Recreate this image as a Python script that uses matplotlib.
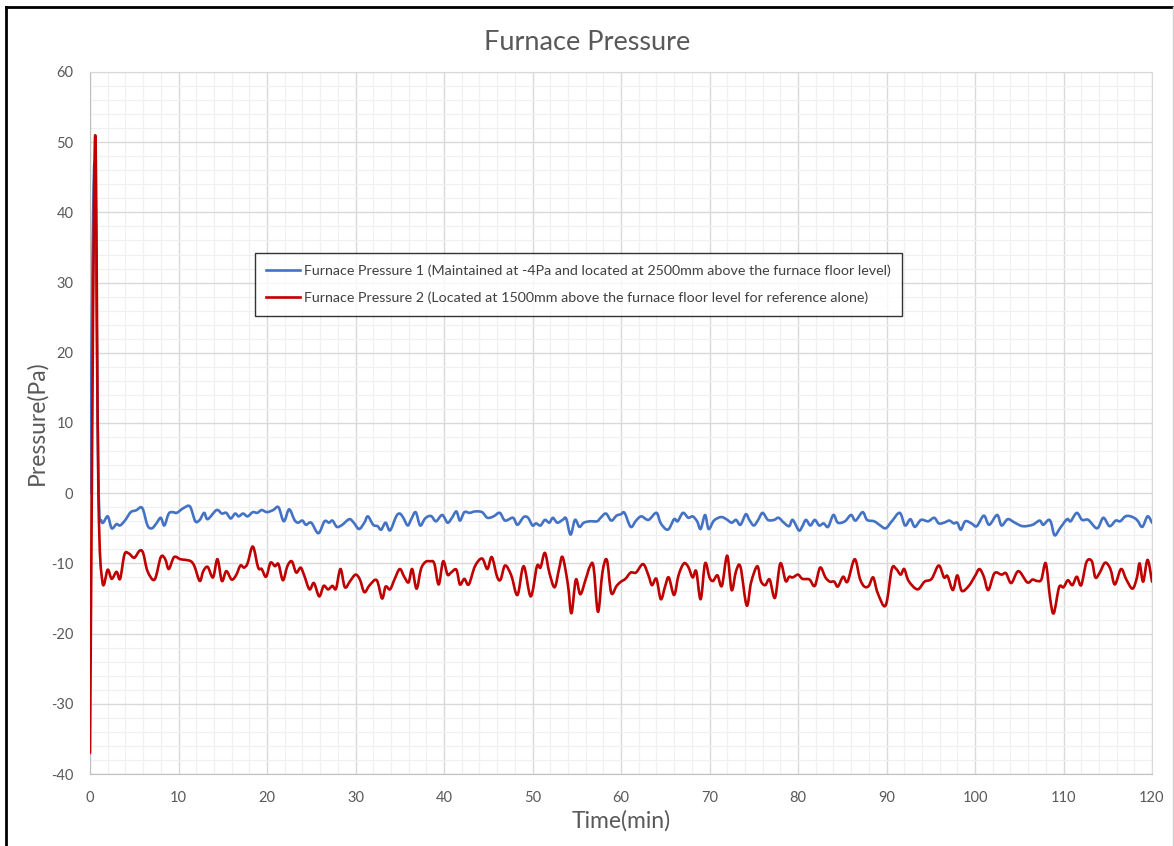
import matplotlib
matplotlib.use("Agg")
import matplotlib.pyplot as plt
from matplotlib.ticker import MultipleLocator
from matplotlib.lines import Line2D
from matplotlib.path import Path
from matplotlib.patches import PathPatch

plt.rcParams['font.family'] = ['Lato', 'DejaVu Sans']
plt.rcParams['axes.unicode_minus'] = False

# Furnace Pressure 1 (blue) - time (min), pressure (Pa)
t1 = [0, 0.5, 0.95, 1.3, 2.0, 2.45, 3.0, 3.4, 4.0, 4.6, 5.2, 5.9, 6.5, 7.0, 7.5, 8.0, 8.4, 8.9, 9.4, 9.8,
      10.6, 11.3, 11.9, 12.4, 12.9, 13.3, 14.3, 14.9, 15.4, 15.9, 16.4, 16.8, 17.3, 17.8, 18.4, 18.9,
      19.4, 20.0, 20.7, 21.3, 21.9, 22.5, 23.1, 23.5, 24.0, 24.4, 25.0, 25.8, 26.5, 27.0, 27.4, 27.9,
      28.5, 29.3, 29.8, 30.4, 31.0, 31.4, 32.0, 32.5, 32.9, 33.4, 33.9, 34.6, 35.0, 35.4, 35.9, 36.3,
      36.8, 37.3, 37.8, 38.2, 38.6, 39.1, 39.8, 40.4, 40.9, 41.4, 41.8, 42.3, 42.9, 43.5, 44.3, 44.9,
      45.6, 46.3, 46.9, 47.8, 48.3, 49.0, 49.5, 50.0, 50.4, 50.9, 51.4, 51.9, 52.3, 52.8, 53.4, 53.8,
      54.3, 54.8, 55.3, 55.8, 56.5, 57.3, 57.7, 58.3, 58.9, 59.5, 60.0, 60.4, 61.1, 61.7, 62.3, 63.1,
      64.0, 64.5, 65.3, 66.0, 66.4, 67.0, 67.6, 68.1, 68.6, 69.0, 69.5, 69.9, 70.5, 71.3, 71.9, 72.5,
      73.0, 73.5, 74.1, 74.5, 75.0, 75.5, 76.0, 76.6, 77.3, 77.8, 78.4, 79.0, 79.4, 80.1, 80.5, 80.9,
      81.4, 81.9, 82.4, 82.9, 83.4, 84.0, 84.5, 85.3, 86.0, 86.5, 87.3, 87.8, 88.6, 89.2, 89.9, 90.6,
      91.5, 92.1, 92.7, 93.2, 93.9, 94.7, 95.4, 95.9, 96.5, 97.1, 97.6, 98.0, 98.4, 98.9, 99.6, 100.2,
      101.0, 101.6, 102.5, 103.0, 103.7, 104.5, 105.4, 106.5, 107.3, 107.7, 108.3, 108.6, 109.0,
      109.6, 110.4, 110.8, 111.5, 112.1, 112.8, 113.8, 114.5, 115.2, 115.9, 116.4, 117.0, 117.6,
      118.3, 118.9, 119.5, 120.0]
p1 = [0, 47, 2, -4.0, -3.3, -5.0, -4.4, -4.6, -3.8, -2.7, -2.45, -2.1, -4.6, -5.0, -4.3, -3.5, -4.6, -2.9,
      -2.7, -2.8, -2.1, -1.9, -4.0, -3.8, -2.8, -3.7, -2.4, -2.9, -2.8, -3.6, -2.9, -3.3, -2.9, -3.3,
      -2.7, -2.8, -2.4, -2.7, -2.4, -2.0, -4.0, -2.3, -3.8, -4.2, -3.9, -4.5, -4.2, -5.7, -4.0, -4.2,
      -3.9, -4.8, -4.5, -3.7, -4.2, -5.1, -4.2, -3.3, -4.5, -4.7, -5.2, -4.2, -5.3, -3.3, -2.9, -3.5,
      -4.6, -3.7, -2.7, -4.6, -3.7, -3.3, -3.3, -4.0, -3.1, -4.2, -3.5, -2.6, -3.9, -2.7, -2.8, -2.6,
      -2.7, -3.5, -3.3, -2.8, -3.9, -3.5, -4.5, -3.4, -3.5, -4.6, -4.3, -4.6, -3.8, -4.2, -3.5, -4.2,
      -3.8, -3.6, -5.9, -3.8, -4.8, -4.2, -4.0, -4.0, -3.5, -2.9, -3.9, -3.2, -3.0, -2.8, -4.8, -3.9,
      -3.3, -3.8, -2.8, -4.3, -5.2, -3.7, -4.0, -2.8, -3.5, -3.3, -4.0, -5.1, -3.1, -5.1, -3.9, -3.4,
      -3.7, -4.2, -3.8, -4.5, -3.0, -3.8, -4.6, -3.8, -2.8, -3.8, -3.8, -3.5, -4.2, -4.7, -3.8, -5.3,
      -4.7, -3.8, -4.6, -3.8, -4.6, -4.3, -4.8, -3.1, -4.2, -4.0, -3.1, -3.9, -2.7, -3.8, -4.0, -4.5,
      -5.0, -4.0, -2.8, -4.6, -3.7, -4.8, -3.8, -4.0, -3.5, -4.3, -4.2, -3.9, -4.3, -4.2, -5.2, -4.0,
      -4.3, -4.7, -3.2, -4.5, -3.1, -4.6, -3.7, -4.2, -4.7, -4.5, -3.9, -4.5, -3.8, -4.2, -6.0, -5.0,
      -3.7, -4.0, -2.8, -3.8, -3.8, -5.0, -3.5, -4.7, -3.9, -4.0, -3.3, -3.3, -3.8, -4.8, -3.3, -4.2]

# Furnace Pressure 2 (red)
t2 = [0, 0.56, 0.95, 1.4, 2.0, 2.45, 3.0, 3.4, 3.9, 4.4, 5.0, 5.6, 6.0, 6.5, 7.3, 8.0, 8.5, 8.9, 9.5,
      10.2, 10.8, 11.4, 11.8, 12.4, 12.8, 13.3, 13.9, 14.4, 14.9, 15.4, 16.0, 16.5, 17.0, 17.4, 17.8,
      18.4, 19.0, 19.4, 19.9, 20.4, 20.9, 21.3, 21.8, 22.3, 22.8, 23.3, 23.8, 24.2, 24.8, 25.3, 25.9,
      26.4, 26.9, 27.4, 27.8, 28.3, 28.8, 29.4, 30.0, 30.5, 31.0, 31.6, 32.4, 33.0, 33.4, 33.9, 34.4,
      35.0, 35.5, 36.0, 36.4, 36.9, 37.4, 37.9, 38.4, 38.9, 39.4, 39.9, 40.4, 40.8, 41.4, 41.8, 42.3,
      42.8, 43.5, 44.3, 44.9, 45.4, 46.0, 46.4, 46.9, 47.6, 48.3, 49.0, 49.8, 50.5, 50.9, 51.4, 51.9,
      52.5, 53.0, 53.4, 54.0, 54.4, 54.9, 55.4, 56.0, 56.5, 56.9, 57.4, 57.9, 58.4, 58.9, 59.5, 60.0,
      60.5, 61.1, 61.7, 62.5, 63.1, 63.5, 64.0, 64.5, 65.0, 65.4, 66.0, 66.5, 67.1, 67.6, 68.1, 68.5,
      69.0, 69.5, 70.0, 70.4, 70.9, 71.4, 72.0, 72.5, 73.0, 73.5, 74.2, 74.7, 75.4, 75.8, 76.3, 76.8,
      77.4, 78.0, 78.6, 79.0, 79.4, 80.0, 80.5, 81.3, 81.9, 82.5, 83.1, 83.6, 84.1, 84.5, 85.1, 85.6,
      86.4, 87.0, 87.5, 88.0, 88.5, 89.0, 89.9, 90.6, 91.1, 91.6, 92.0, 92.5, 93.5, 94.3, 95.1, 95.9,
      96.5, 96.9, 97.5, 98.0, 98.5, 99.3, 100.0, 100.5, 101.0, 101.5, 102.2, 103.0, 103.5, 104.1,
      104.9, 105.9, 106.5, 107.0, 107.5, 108.0, 108.5, 108.9, 109.5, 110.0, 110.5, 111.0, 111.5,
      112.0, 112.6, 113.2, 113.6, 114.1, 114.7, 115.3, 115.8, 116.5, 117.1, 117.8, 118.3, 118.6,
      119.0, 119.5, 120.0]
p2 = [-37, 50.5, 0, -12.6, -10.9, -12.2, -11.2, -12.2, -8.7, -8.6, -9.2, -8.2, -8.5, -11.1, -12.3,
      -9.1, -9.4, -10.8, -9.1, -9.4, -9.5, -9.7, -10.4, -12.5, -11.1, -10.5, -12.0, -9.4, -12.5, -11.1,
      -12.3, -11.7, -10.3, -10.6, -10.0, -7.6, -10.6, -10.8, -11.9, -9.9, -10.4, -10.1, -12.4, -10.4,
      -9.7, -11.3, -10.6, -11.7, -13.7, -12.8, -14.7, -13.2, -13.7, -13.2, -13.6, -10.8, -13.4, -12.5,
      -11.6, -12.3, -14.1, -13.1, -12.4, -15.0, -13.3, -13.7, -12.3, -10.8, -11.9, -12.7, -10.8, -13.6,
      -10.8, -9.8, -9.7, -10.0, -13.0, -9.7, -11.6, -11.3, -10.9, -13.0, -12.2, -13.0, -10.4, -9.3,
      -10.8, -9.1, -11.9, -12.3, -10.3, -11.7, -14.5, -10.4, -14.7, -10.4, -10.6, -8.5, -11.3, -13.4,
      -10.8, -9.1, -13.0, -17.1, -12.3, -14.4, -12.3, -10.4, -10.5, -16.9, -11.3, -9.5, -14.2, -13.2,
      -12.6, -12.2, -11.3, -11.3, -10.1, -11.7, -13.1, -12.2, -15.1, -13.2, -12.0, -14.5, -11.7, -10.0,
      -10.5, -12.0, -11.1, -15.1, -10.0, -12.0, -12.5, -11.7, -13.2, -8.9, -13.8, -11.1, -10.5, -16.0,
      -12.7, -10.4, -12.5, -13.1, -12.3, -14.9, -10.0, -12.5, -11.9, -12.0, -11.6, -12.2, -12.3, -13.2,
      -10.6, -12.0, -12.6, -12.6, -13.3, -11.9, -12.6, -9.4, -12.2, -13.3, -13.2, -12.0, -14.2, -16.0,
      -10.8, -10.8, -11.6, -10.8, -12.5, -13.7, -12.6, -12.2, -10.3, -12.0, -11.8, -13.8, -11.7, -13.9,
      -13.2, -11.8, -10.8, -11.9, -13.8, -11.4, -11.6, -11.4, -12.8, -11.1, -12.7, -12.3, -12.5, -12.3,
      -10.0, -15.1, -17.1, -13.4, -13.4, -12.4, -13.1, -11.9, -13.1, -9.8, -9.7, -12.0, -11.3, -9.9,
      -10.8, -13.0, -10.8, -12.3, -13.6, -12.0, -10.0, -12.6, -9.5, -12.6]

label1 = "Furnace Pressure 1 (Maintained at -4Pa and located at 2500mm above the furnace floor level)"
label2 = "Furnace Pressure 2 (Located at 1500mm above the furnace floor level for reference alone)"
blue = "#4472C4"
red = "#C00000"


def smooth_path(x, y):
    # Excel-like "smoothed line": Bezier segments through every data point
    verts = [(x[0], y[0])]
    codes = [Path.MOVETO]
    n = len(x)
    for i in range(n - 1):
        x0, y0 = (x[i - 1], y[i - 1]) if i > 0 else (x[i], y[i])
        x3, y3 = (x[i + 2], y[i + 2]) if i + 2 < n else (x[i + 1], y[i + 1])
        c1 = (x[i] + (x[i + 1] - x0) / 6, y[i] + (y[i + 1] - y0) / 6)
        c2 = (x[i + 1] - (x3 - x[i]) / 6, y[i + 1] - (y3 - y[i]) / 6)
        verts += [c1, c2, (x[i + 1], y[i + 1])]
        codes += [Path.CURVE4] * 3
    return Path(verts, codes)


fig = plt.figure(figsize=(11.74, 8.46), dpi=100)
ax = fig.add_axes([90 / 1174, 1 - 774 / 846, 1062 / 1174, 702 / 846])

for t, p, c, z in [(t1, p1, blue, 3), (t2, p2, red, 4)]:
    ax.add_patch(PathPatch(smooth_path(t, p), facecolor="none", edgecolor=c, lw=1.9,
                           joinstyle="round", capstyle="round", zorder=z))

ax.set_xlim(0, 120)
ax.set_ylim(-40, 60)
ax.xaxis.set_major_locator(MultipleLocator(10))
ax.xaxis.set_minor_locator(MultipleLocator(2))
ax.yaxis.set_major_locator(MultipleLocator(10))
ax.yaxis.set_minor_locator(MultipleLocator(2))
ax.grid(which="major", color="#d9d9d9", lw=1.0)
ax.grid(which="minor", color="#f0f0f0", lw=0.9)
ax.set_axisbelow(True)
ax.tick_params(which="both", length=0, labelsize=10.5, labelcolor="#595959")
ax.tick_params(axis="x", pad=12)
ax.tick_params(axis="y", pad=12)
for s in ["top", "right"]:
    ax.spines[s].set_color("#d9d9d9")
for s in ["left", "bottom"]:
    ax.spines[s].set_color("#bfbfbf")

fig.text(0.5, 1 - 42 / 846, "Furnace Pressure", fontsize=19.5, color="#595959",
         ha="center", va="center")
ax.set_xlabel("Time(min)", fontsize=16.5, color="#595959")
ax.set_ylabel("Pressure(Pa)", fontsize=16.5, color="#595959")
ax.xaxis.set_label_coords(0.5, -0.052)
ax.yaxis.set_label_coords(-0.040, 0.5)

handles = [Line2D([], [], color=blue, lw=1.9), Line2D([], [], color=red, lw=1.9)]
leg = ax.legend(handles, [label1, label2], loc="upper left", bbox_to_anchor=(0.155, 0.742),
                borderaxespad=0, fontsize=10.3, frameon=True, fancybox=False, edgecolor="black",
                handlelength=2.4, handletextpad=0.25, labelspacing=1.05, borderpad=0.78,
                labelcolor="#404040")
leg.get_frame().set_linewidth(1.0)

# screenshot frame edges
fig.add_artist(Line2D([6 / 1174, 6 / 1174], [0, 1 - 7 / 846], color="black", lw=2))
fig.add_artist(Line2D([6 / 1174, 1], [1 - 7 / 846, 1 - 7 / 846], color="black", lw=2))
fig.add_artist(Line2D([1172.5 / 1174, 1172.5 / 1174], [0, 1 - 7 / 846], color="#d0d0d0", lw=1))

fig.savefig("out.png", dpi=100)
